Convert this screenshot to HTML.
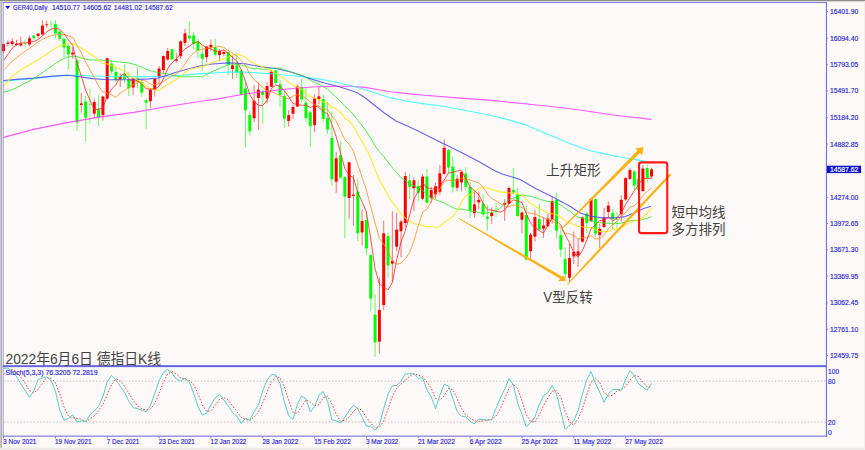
<!DOCTYPE html>
<html lang="zh"><head><meta charset="utf-8"><title>GER40 Daily</title>
<style>
html,body{margin:0;padding:0;background:#fdf9f8;}
body{width:865px;height:450px;overflow:hidden;}
svg{display:block}
.ax{font-family:"Liberation Sans","DejaVu Sans",sans-serif;font-size:7.8px;fill:#2b2bd6;stroke:#2b2bd6;stroke-width:0.18px;}
.cj{font-family:"Liberation Sans","Noto Sans CJK SC","WenQuanYi Zen Hei",sans-serif;font-size:13.8px;fill:#424242;}
</style></head><body>
<svg width="865" height="450" viewBox="0 0 865 450">
<rect width="865" height="450" fill="#fdf9f8"/>
<g id="chart">
<rect x="3.05" y="43.5" width="1" height="9.8" fill="#ff0000" fill-opacity="0.55"/>
<rect x="2.05" y="43.9" width="3.0" height="7.3" fill="#ff0000" rx="0.6"/>
<rect x="7.37" y="40.3" width="1" height="6.2" fill="#ff0000" fill-opacity="0.55"/>
<rect x="6.37" y="42.4" width="3.0" height="1.5" fill="#ff0000" rx="0.6"/>
<rect x="11.69" y="38.2" width="1" height="7.8" fill="#ff0000" fill-opacity="0.55"/>
<rect x="10.69" y="41.3" width="3.0" height="2.8" fill="#ff0000" rx="0.6"/>
<rect x="16.01" y="39.8" width="1" height="6.2" fill="#ff0000" fill-opacity="0.55"/>
<rect x="15.01" y="43.4" width="3.0" height="1.6" fill="#ff0000" rx="0.6"/>
<rect x="20.33" y="36.6" width="1" height="9.9" fill="#ff0000" fill-opacity="0.55"/>
<rect x="19.33" y="43.4" width="3.0" height="2.1" fill="#ff0000" rx="0.6"/>
<rect x="24.65" y="39.2" width="1" height="7.8" fill="#00ff00" fill-opacity="0.5"/>
<rect x="23.95" y="43.1" width="2.4" height="1" fill="#00ff00" fill-opacity="0.55"/>
<rect x="28.97" y="35.6" width="1" height="10.4" fill="#ff0000" fill-opacity="0.55"/>
<rect x="27.97" y="38.2" width="3.0" height="6.3" fill="#ff0000" rx="0.6"/>
<rect x="33.29" y="35.6" width="1" height="4.2" fill="#00ff00" fill-opacity="0.6"/>
<rect x="32.29" y="35.6" width="3.0" height="2.6" fill="#00ff00" rx="0.6"/>
<rect x="37.61" y="33.5" width="1" height="4.7" fill="#ff0000" fill-opacity="0.55"/>
<rect x="36.61" y="33.5" width="3.0" height="2.6" fill="#ff0000" rx="0.6"/>
<rect x="41.93" y="20.2" width="1" height="15.4" fill="#ff0000" fill-opacity="0.55"/>
<rect x="40.93" y="25.5" width="3.0" height="9.0" fill="#ff0000" rx="0.6"/>
<rect x="46.25" y="21.0" width="1" height="6.8" fill="#ff0000" fill-opacity="0.55"/>
<rect x="45.25" y="24.2" width="3.0" height="1.0" fill="#ff0000" rx="0.6"/>
<rect x="50.57" y="20.5" width="1" height="8.3" fill="#00ff00" fill-opacity="0.5"/>
<rect x="49.87" y="23.6" width="2.4" height="1" fill="#00ff00" fill-opacity="0.55"/>
<rect x="54.89" y="20.1" width="1" height="18.1" fill="#00ff00" fill-opacity="0.6"/>
<rect x="53.89" y="24.0" width="3.0" height="9.5" fill="#00ff00" rx="0.6"/>
<rect x="59.21" y="30.4" width="1" height="10.9" fill="#00ff00" fill-opacity="0.6"/>
<rect x="58.21" y="31.4" width="3.0" height="7.3" fill="#00ff00" rx="0.6"/>
<rect x="63.53" y="37.7" width="1" height="19.9" fill="#00ff00" fill-opacity="0.6"/>
<rect x="62.53" y="38.7" width="3.0" height="8.8" fill="#00ff00" rx="0.6"/>
<rect x="67.85" y="43.4" width="1" height="25.8" fill="#00ff00" fill-opacity="0.6"/>
<rect x="66.85" y="45.8" width="3.0" height="8.7" fill="#00ff00" rx="0.6"/>
<rect x="72.17" y="47.4" width="1" height="11.1" fill="#ff0000" fill-opacity="0.55"/>
<rect x="71.17" y="52.5" width="3.0" height="2.0" fill="#ff0000" rx="0.6"/>
<rect x="76.49" y="58.5" width="1" height="72.5" fill="#00ff00" fill-opacity="0.6"/>
<rect x="75.49" y="60.2" width="3.0" height="62.2" fill="#00ff00" rx="0.6"/>
<rect x="80.81" y="92.8" width="1" height="19.7" fill="#ff0000" fill-opacity="0.55"/>
<rect x="79.81" y="103.3" width="3.0" height="1.7" fill="#ff0000" rx="0.6"/>
<rect x="85.13" y="96.3" width="1" height="45.1" fill="#00ff00" fill-opacity="0.6"/>
<rect x="84.13" y="101.5" width="3.0" height="16.2" fill="#00ff00" rx="0.6"/>
<rect x="89.45" y="88.7" width="1" height="34.8" fill="#00ff00" fill-opacity="0.5"/>
<rect x="88.75" y="104.0" width="2.4" height="1" fill="#00ff00" fill-opacity="0.55"/>
<rect x="93.77" y="98.7" width="1" height="19.6" fill="#ff0000" fill-opacity="0.55"/>
<rect x="92.77" y="102.0" width="3.0" height="11.7" fill="#ff0000" rx="0.6"/>
<rect x="98.09" y="95.2" width="1" height="30.6" fill="#00ff00" fill-opacity="0.6"/>
<rect x="97.09" y="109.0" width="3.0" height="8.7" fill="#00ff00" rx="0.6"/>
<rect x="102.41" y="95.8" width="1" height="24.8" fill="#ff0000" fill-opacity="0.55"/>
<rect x="101.41" y="96.6" width="3.0" height="18.3" fill="#ff0000" rx="0.6"/>
<rect x="106.73" y="57.8" width="1" height="41.4" fill="#ff0000" fill-opacity="0.55"/>
<rect x="105.73" y="58.2" width="3.0" height="40.5" fill="#ff0000" rx="0.6"/>
<rect x="111.05" y="60.3" width="1" height="14.1" fill="#00ff00" fill-opacity="0.6"/>
<rect x="110.05" y="63.5" width="3.0" height="8.1" fill="#00ff00" rx="0.6"/>
<rect x="115.37" y="66.8" width="1" height="15.1" fill="#00ff00" fill-opacity="0.6"/>
<rect x="114.37" y="72.0" width="3.0" height="8.2" fill="#00ff00" rx="0.6"/>
<rect x="119.69" y="73.3" width="1" height="13.7" fill="#ff0000" fill-opacity="0.55"/>
<rect x="118.69" y="77.0" width="3.0" height="2.4" fill="#ff0000" rx="0.6"/>
<rect x="124.01" y="64.0" width="1" height="18.5" fill="#00ff00" fill-opacity="0.6"/>
<rect x="123.01" y="74.0" width="3.0" height="5.4" fill="#00ff00" rx="0.6"/>
<rect x="128.33" y="72.4" width="1" height="23.6" fill="#00ff00" fill-opacity="0.6"/>
<rect x="127.33" y="79.7" width="3.0" height="8.6" fill="#00ff00" rx="0.6"/>
<rect x="132.65" y="77.0" width="1" height="18.2" fill="#ff0000" fill-opacity="0.55"/>
<rect x="131.65" y="78.6" width="3.0" height="8.9" fill="#ff0000" rx="0.6"/>
<rect x="136.97" y="66.8" width="1" height="21.5" fill="#00ff00" fill-opacity="0.6"/>
<rect x="135.97" y="78.6" width="3.0" height="2.8" fill="#00ff00" rx="0.6"/>
<rect x="141.29" y="80.6" width="1" height="16.2" fill="#00ff00" fill-opacity="0.6"/>
<rect x="140.29" y="81.9" width="3.0" height="10.8" fill="#00ff00" rx="0.6"/>
<rect x="145.61" y="99.2" width="1" height="29.5" fill="#00ff00" fill-opacity="0.6"/>
<rect x="144.61" y="100.1" width="3.0" height="2.7" fill="#00ff00" rx="0.6"/>
<rect x="149.93" y="88.7" width="1" height="19.1" fill="#ff0000" fill-opacity="0.55"/>
<rect x="148.93" y="89.5" width="3.0" height="11.7" fill="#ff0000" rx="0.6"/>
<rect x="154.25" y="78.1" width="1" height="18.7" fill="#ff0000" fill-opacity="0.55"/>
<rect x="153.25" y="78.4" width="3.0" height="11.1" fill="#ff0000" rx="0.6"/>
<rect x="158.57" y="66.0" width="1" height="19.4" fill="#ff0000" fill-opacity="0.55"/>
<rect x="157.57" y="68.4" width="3.0" height="8.6" fill="#ff0000" rx="0.6"/>
<rect x="162.89" y="55.4" width="1" height="18.6" fill="#ff0000" fill-opacity="0.55"/>
<rect x="161.89" y="55.9" width="3.0" height="14.1" fill="#ff0000" rx="0.6"/>
<rect x="167.21" y="48.1" width="1" height="12.7" fill="#ff0000" fill-opacity="0.55"/>
<rect x="166.21" y="51.0" width="3.0" height="8.5" fill="#ff0000" rx="0.6"/>
<rect x="171.53" y="49.0" width="1" height="11.3" fill="#00ff00" fill-opacity="0.6"/>
<rect x="170.53" y="49.2" width="3.0" height="10.3" fill="#00ff00" rx="0.6"/>
<rect x="175.85" y="52.7" width="1" height="10.0" fill="#ff0000" fill-opacity="0.55"/>
<rect x="174.85" y="59.1" width="3.0" height="1.7" fill="#ff0000" rx="0.6"/>
<rect x="180.17" y="40.2" width="1" height="18.8" fill="#ff0000" fill-opacity="0.55"/>
<rect x="179.17" y="41.3" width="3.0" height="15.0" fill="#ff0000" rx="0.6"/>
<rect x="184.49" y="28.8" width="1" height="17.0" fill="#ff0000" fill-opacity="0.55"/>
<rect x="183.49" y="33.2" width="3.0" height="9.7" fill="#ff0000" rx="0.6"/>
<rect x="188.81" y="21.2" width="1" height="19.4" fill="#00ff00" fill-opacity="0.6"/>
<rect x="187.81" y="35.8" width="3.0" height="2.7" fill="#00ff00" rx="0.6"/>
<rect x="193.13" y="32.0" width="1" height="17.7" fill="#00ff00" fill-opacity="0.6"/>
<rect x="192.13" y="35.3" width="3.0" height="8.7" fill="#00ff00" rx="0.6"/>
<rect x="197.45" y="39.3" width="1" height="19.0" fill="#00ff00" fill-opacity="0.6"/>
<rect x="196.45" y="41.3" width="3.0" height="9.1" fill="#00ff00" rx="0.6"/>
<rect x="201.77" y="45.8" width="1" height="25.2" fill="#00ff00" fill-opacity="0.6"/>
<rect x="200.77" y="53.6" width="3.0" height="5.2" fill="#00ff00" rx="0.6"/>
<rect x="206.09" y="45.8" width="1" height="16.2" fill="#ff0000" fill-opacity="0.55"/>
<rect x="205.09" y="46.6" width="3.0" height="10.6" fill="#ff0000" rx="0.6"/>
<rect x="210.41" y="39.3" width="1" height="11.7" fill="#ff0000" fill-opacity="0.55"/>
<rect x="209.41" y="44.7" width="3.0" height="2.7" fill="#ff0000" rx="0.6"/>
<rect x="214.73" y="38.5" width="1" height="17.9" fill="#00ff00" fill-opacity="0.6"/>
<rect x="213.73" y="47.1" width="3.0" height="7.6" fill="#00ff00" rx="0.6"/>
<rect x="219.05" y="49.1" width="1" height="12.1" fill="#ff0000" fill-opacity="0.55"/>
<rect x="218.05" y="51.0" width="3.0" height="4.1" fill="#ff0000" rx="0.6"/>
<rect x="223.37" y="49.9" width="1" height="6.5" fill="#ff0000" fill-opacity="0.55"/>
<rect x="222.37" y="52.0" width="3.0" height="2.0" fill="#ff0000" rx="0.6"/>
<rect x="227.69" y="49.1" width="1" height="25.9" fill="#00ff00" fill-opacity="0.6"/>
<rect x="226.69" y="52.0" width="3.0" height="12.5" fill="#00ff00" rx="0.6"/>
<rect x="232.01" y="55.6" width="1" height="23.4" fill="#ff0000" fill-opacity="0.55"/>
<rect x="231.01" y="65.3" width="3.0" height="3.7" fill="#ff0000" rx="0.6"/>
<rect x="236.33" y="53.1" width="1" height="24.8" fill="#00ff00" fill-opacity="0.6"/>
<rect x="235.33" y="65.3" width="3.0" height="7.3" fill="#00ff00" rx="0.6"/>
<rect x="240.65" y="69.3" width="1" height="25.7" fill="#00ff00" fill-opacity="0.6"/>
<rect x="239.65" y="70.2" width="3.0" height="24.1" fill="#00ff00" rx="0.6"/>
<rect x="244.97" y="82.0" width="1" height="65.4" fill="#00ff00" fill-opacity="0.6"/>
<rect x="243.97" y="88.2" width="3.0" height="22.0" fill="#00ff00" rx="0.6"/>
<rect x="249.29" y="110.6" width="1" height="25.1" fill="#00ff00" fill-opacity="0.6"/>
<rect x="248.29" y="115.1" width="3.0" height="16.2" fill="#00ff00" rx="0.6"/>
<rect x="253.61" y="84.9" width="1" height="37.3" fill="#ff0000" fill-opacity="0.55"/>
<rect x="252.61" y="100.8" width="3.0" height="17.5" fill="#ff0000" rx="0.6"/>
<rect x="257.93" y="82.2" width="1" height="47.5" fill="#ff0000" fill-opacity="0.55"/>
<rect x="256.93" y="89.5" width="3.0" height="8.4" fill="#ff0000" rx="0.6"/>
<rect x="262.25" y="89.5" width="1" height="34.0" fill="#00ff00" fill-opacity="0.6"/>
<rect x="261.25" y="91.4" width="3.0" height="3.7" fill="#00ff00" rx="0.6"/>
<rect x="266.57" y="82.2" width="1" height="21.1" fill="#ff0000" fill-opacity="0.55"/>
<rect x="265.57" y="85.9" width="3.0" height="12.5" fill="#ff0000" rx="0.6"/>
<rect x="270.89" y="69.8" width="1" height="17.4" fill="#ff0000" fill-opacity="0.55"/>
<rect x="269.89" y="71.6" width="3.0" height="15.2" fill="#ff0000" rx="0.6"/>
<rect x="275.21" y="69.3" width="1" height="14.5" fill="#00ff00" fill-opacity="0.6"/>
<rect x="274.21" y="70.6" width="3.0" height="12.4" fill="#00ff00" rx="0.6"/>
<rect x="279.53" y="80.0" width="1" height="27.0" fill="#00ff00" fill-opacity="0.6"/>
<rect x="278.53" y="84.3" width="3.0" height="10.4" fill="#00ff00" rx="0.6"/>
<rect x="283.85" y="90.8" width="1" height="36.8" fill="#00ff00" fill-opacity="0.6"/>
<rect x="282.85" y="96.0" width="3.0" height="22.7" fill="#00ff00" rx="0.6"/>
<rect x="288.17" y="110.2" width="1" height="16.3" fill="#ff0000" fill-opacity="0.55"/>
<rect x="287.17" y="115.1" width="3.0" height="6.0" fill="#ff0000" rx="0.6"/>
<rect x="292.49" y="104.9" width="1" height="14.1" fill="#ff0000" fill-opacity="0.55"/>
<rect x="291.49" y="107.0" width="3.0" height="6.8" fill="#ff0000" rx="0.6"/>
<rect x="296.81" y="84.6" width="1" height="22.4" fill="#ff0000" fill-opacity="0.55"/>
<rect x="295.81" y="86.2" width="3.0" height="20.3" fill="#ff0000" rx="0.6"/>
<rect x="301.13" y="78.9" width="1" height="23.2" fill="#00ff00" fill-opacity="0.6"/>
<rect x="300.13" y="87.0" width="3.0" height="12.5" fill="#00ff00" rx="0.6"/>
<rect x="305.45" y="87.8" width="1" height="34.4" fill="#00ff00" fill-opacity="0.6"/>
<rect x="304.45" y="102.4" width="3.0" height="15.9" fill="#00ff00" rx="0.6"/>
<rect x="309.77" y="110.6" width="1" height="36.3" fill="#00ff00" fill-opacity="0.6"/>
<rect x="308.77" y="112.2" width="3.0" height="13.8" fill="#00ff00" rx="0.6"/>
<rect x="314.09" y="94.3" width="1" height="37.7" fill="#ff0000" fill-opacity="0.55"/>
<rect x="313.09" y="97.9" width="3.0" height="27.3" fill="#ff0000" rx="0.6"/>
<rect x="318.41" y="85.9" width="1" height="18.5" fill="#ff0000" fill-opacity="0.55"/>
<rect x="317.41" y="96.3" width="3.0" height="2.9" fill="#ff0000" rx="0.6"/>
<rect x="322.73" y="94.3" width="1" height="27.3" fill="#00ff00" fill-opacity="0.6"/>
<rect x="321.73" y="98.9" width="3.0" height="20.1" fill="#00ff00" rx="0.6"/>
<rect x="327.05" y="101.6" width="1" height="32.4" fill="#00ff00" fill-opacity="0.6"/>
<rect x="326.05" y="117.9" width="3.0" height="11.7" fill="#00ff00" rx="0.6"/>
<rect x="331.37" y="112.2" width="1" height="73.6" fill="#00ff00" fill-opacity="0.6"/>
<rect x="330.37" y="138.0" width="3.0" height="41.3" fill="#00ff00" rx="0.6"/>
<rect x="335.69" y="151.8" width="1" height="41.3" fill="#ff0000" fill-opacity="0.55"/>
<rect x="334.69" y="158.3" width="3.0" height="23.5" fill="#ff0000" rx="0.6"/>
<rect x="340.01" y="141.2" width="1" height="37.3" fill="#00ff00" fill-opacity="0.6"/>
<rect x="339.01" y="155.0" width="3.0" height="22.7" fill="#00ff00" rx="0.6"/>
<rect x="344.33" y="176.0" width="1" height="62.2" fill="#00ff00" fill-opacity="0.6"/>
<rect x="343.33" y="176.9" width="3.0" height="19.8" fill="#00ff00" rx="0.6"/>
<rect x="348.65" y="161.5" width="1" height="56.8" fill="#ff0000" fill-opacity="0.55"/>
<rect x="347.65" y="162.3" width="3.0" height="35.7" fill="#ff0000" rx="0.6"/>
<rect x="352.97" y="175.0" width="1" height="50.6" fill="#ff0000" fill-opacity="0.55"/>
<rect x="351.97" y="194.6" width="3.0" height="1.4" fill="#ff0000" rx="0.6"/>
<rect x="357.29" y="178.5" width="1" height="62.6" fill="#00ff00" fill-opacity="0.6"/>
<rect x="356.29" y="191.5" width="3.0" height="41.8" fill="#00ff00" rx="0.6"/>
<rect x="361.61" y="209.3" width="1" height="36.3" fill="#ff0000" fill-opacity="0.55"/>
<rect x="360.61" y="221.0" width="3.0" height="11.4" fill="#ff0000" rx="0.6"/>
<rect x="365.93" y="213.4" width="1" height="41.3" fill="#00ff00" fill-opacity="0.6"/>
<rect x="364.93" y="219.9" width="3.0" height="28.5" fill="#00ff00" rx="0.6"/>
<rect x="370.25" y="254.0" width="1" height="56.8" fill="#00ff00" fill-opacity="0.6"/>
<rect x="369.25" y="255.0" width="3.0" height="43.7" fill="#00ff00" rx="0.6"/>
<rect x="374.57" y="294.2" width="1" height="62.5" fill="#00ff00" fill-opacity="0.6"/>
<rect x="373.57" y="314.7" width="3.0" height="27.8" fill="#00ff00" rx="0.6"/>
<rect x="378.89" y="277.6" width="1" height="75.7" fill="#ff0000" fill-opacity="0.55"/>
<rect x="377.89" y="310.0" width="3.0" height="31.7" fill="#ff0000" rx="0.6"/>
<rect x="383.21" y="220.7" width="1" height="89.3" fill="#ff0000" fill-opacity="0.55"/>
<rect x="382.21" y="233.3" width="3.0" height="71.7" fill="#ff0000" rx="0.6"/>
<rect x="387.53" y="232.9" width="1" height="44.7" fill="#00ff00" fill-opacity="0.6"/>
<rect x="386.53" y="236.1" width="3.0" height="29.3" fill="#00ff00" rx="0.6"/>
<rect x="391.85" y="211.3" width="1" height="70.3" fill="#ff0000" fill-opacity="0.55"/>
<rect x="390.85" y="260.8" width="3.0" height="2.9" fill="#ff0000" rx="0.6"/>
<rect x="396.17" y="212.9" width="1" height="38.3" fill="#ff0000" fill-opacity="0.55"/>
<rect x="395.17" y="229.6" width="3.0" height="17.1" fill="#ff0000" rx="0.6"/>
<rect x="400.49" y="219.4" width="1" height="37.9" fill="#ff0000" fill-opacity="0.55"/>
<rect x="399.49" y="221.5" width="3.0" height="9.7" fill="#ff0000" rx="0.6"/>
<rect x="404.81" y="171.7" width="1" height="55.5" fill="#ff0000" fill-opacity="0.55"/>
<rect x="403.81" y="176.1" width="3.0" height="47.0" fill="#ff0000" rx="0.6"/>
<rect x="409.13" y="173.7" width="1" height="25.6" fill="#00ff00" fill-opacity="0.6"/>
<rect x="408.13" y="180.2" width="3.0" height="6.6" fill="#00ff00" rx="0.6"/>
<rect x="413.45" y="177.2" width="1" height="33.8" fill="#ff0000" fill-opacity="0.55"/>
<rect x="412.45" y="180.2" width="3.0" height="8.1" fill="#ff0000" rx="0.6"/>
<rect x="417.77" y="180.2" width="1" height="20.7" fill="#00ff00" fill-opacity="0.6"/>
<rect x="416.77" y="186.0" width="3.0" height="7.0" fill="#00ff00" rx="0.6"/>
<rect x="422.09" y="173.7" width="1" height="26.7" fill="#ff0000" fill-opacity="0.55"/>
<rect x="421.09" y="176.6" width="3.0" height="22.2" fill="#ff0000" rx="0.6"/>
<rect x="426.41" y="169.1" width="1" height="34.5" fill="#00ff00" fill-opacity="0.6"/>
<rect x="425.41" y="176.6" width="3.0" height="26.2" fill="#00ff00" rx="0.6"/>
<rect x="430.73" y="187.3" width="1" height="15.9" fill="#ff0000" fill-opacity="0.55"/>
<rect x="429.73" y="190.0" width="3.0" height="8.2" fill="#ff0000" rx="0.6"/>
<rect x="435.05" y="182.5" width="1" height="16.1" fill="#ff0000" fill-opacity="0.55"/>
<rect x="434.05" y="186.2" width="3.0" height="8.3" fill="#ff0000" rx="0.6"/>
<rect x="439.37" y="164.9" width="1" height="30.4" fill="#ff0000" fill-opacity="0.55"/>
<rect x="438.37" y="173.3" width="3.0" height="18.5" fill="#ff0000" rx="0.6"/>
<rect x="443.69" y="139.1" width="1" height="35.6" fill="#ff0000" fill-opacity="0.55"/>
<rect x="442.69" y="147.7" width="3.0" height="26.2" fill="#ff0000" rx="0.6"/>
<rect x="448.01" y="148.8" width="1" height="24.3" fill="#00ff00" fill-opacity="0.6"/>
<rect x="447.01" y="149.9" width="3.0" height="17.5" fill="#00ff00" rx="0.6"/>
<rect x="452.33" y="156.4" width="1" height="36.0" fill="#00ff00" fill-opacity="0.6"/>
<rect x="451.33" y="166.6" width="3.0" height="20.7" fill="#00ff00" rx="0.6"/>
<rect x="456.65" y="175.2" width="1" height="16.0" fill="#ff0000" fill-opacity="0.55"/>
<rect x="455.65" y="178.8" width="3.0" height="9.0" fill="#ff0000" rx="0.6"/>
<rect x="460.97" y="171.0" width="1" height="20.3" fill="#ff0000" fill-opacity="0.55"/>
<rect x="459.97" y="172.0" width="3.0" height="10.4" fill="#ff0000" rx="0.6"/>
<rect x="465.29" y="167.4" width="1" height="23.4" fill="#00ff00" fill-opacity="0.6"/>
<rect x="464.29" y="173.6" width="3.0" height="13.3" fill="#00ff00" rx="0.6"/>
<rect x="469.61" y="182.0" width="1" height="36.1" fill="#00ff00" fill-opacity="0.6"/>
<rect x="468.61" y="186.9" width="3.0" height="23.6" fill="#00ff00" rx="0.6"/>
<rect x="473.93" y="191.4" width="1" height="26.2" fill="#ff0000" fill-opacity="0.55"/>
<rect x="472.93" y="204.3" width="3.0" height="9.0" fill="#ff0000" rx="0.6"/>
<rect x="478.25" y="191.6" width="1" height="17.3" fill="#ff0000" fill-opacity="0.55"/>
<rect x="477.25" y="199.8" width="3.0" height="2.6" fill="#ff0000" rx="0.6"/>
<rect x="482.57" y="194.0" width="1" height="23.0" fill="#00ff00" fill-opacity="0.6"/>
<rect x="481.57" y="203.5" width="3.0" height="10.9" fill="#00ff00" rx="0.6"/>
<rect x="486.89" y="204.5" width="1" height="26.1" fill="#00ff00" fill-opacity="0.6"/>
<rect x="485.89" y="216.5" width="3.0" height="2.4" fill="#00ff00" rx="0.6"/>
<rect x="491.21" y="207.3" width="1" height="16.5" fill="#ff0000" fill-opacity="0.55"/>
<rect x="490.21" y="212.8" width="3.0" height="3.2" fill="#ff0000" rx="0.6"/>
<rect x="495.53" y="202.5" width="1" height="14.5" fill="#00ff00" fill-opacity="0.5"/>
<rect x="494.83" y="208.5" width="2.4" height="1" fill="#00ff00" fill-opacity="0.55"/>
<rect x="504.17" y="199.1" width="1" height="21.8" fill="#ff0000" fill-opacity="0.55"/>
<rect x="503.17" y="203.0" width="3.0" height="1.7" fill="#ff0000" rx="0.6"/>
<rect x="508.49" y="186.5" width="1" height="18.0" fill="#ff0000" fill-opacity="0.55"/>
<rect x="507.49" y="188.0" width="3.0" height="15.7" fill="#ff0000" rx="0.6"/>
<rect x="512.81" y="167.8" width="1" height="26.2" fill="#00ff00" fill-opacity="0.6"/>
<rect x="511.81" y="190.1" width="3.0" height="3.1" fill="#00ff00" rx="0.6"/>
<rect x="517.13" y="187.8" width="1" height="29.2" fill="#00ff00" fill-opacity="0.6"/>
<rect x="516.13" y="194.6" width="3.0" height="21.4" fill="#00ff00" rx="0.6"/>
<rect x="521.45" y="211.6" width="1" height="21.8" fill="#ff0000" fill-opacity="0.55"/>
<rect x="520.45" y="212.4" width="3.0" height="7.3" fill="#ff0000" rx="0.6"/>
<rect x="525.77" y="206.0" width="1" height="54.4" fill="#00ff00" fill-opacity="0.6"/>
<rect x="524.77" y="214.9" width="3.0" height="44.5" fill="#00ff00" rx="0.6"/>
<rect x="530.09" y="232.8" width="1" height="26.2" fill="#ff0000" fill-opacity="0.55"/>
<rect x="529.09" y="234.4" width="3.0" height="16.8" fill="#ff0000" rx="0.6"/>
<rect x="534.41" y="210.0" width="1" height="31.6" fill="#ff0000" fill-opacity="0.55"/>
<rect x="533.41" y="217.0" width="3.0" height="19.7" fill="#ff0000" rx="0.6"/>
<rect x="538.73" y="203.5" width="1" height="26.8" fill="#00ff00" fill-opacity="0.6"/>
<rect x="537.73" y="218.9" width="3.0" height="10.6" fill="#00ff00" rx="0.6"/>
<rect x="543.05" y="217.6" width="1" height="20.4" fill="#ff0000" fill-opacity="0.55"/>
<rect x="542.05" y="225.4" width="3.0" height="3.3" fill="#ff0000" rx="0.6"/>
<rect x="547.37" y="213.7" width="1" height="13.3" fill="#ff0000" fill-opacity="0.55"/>
<rect x="546.37" y="218.6" width="3.0" height="7.6" fill="#ff0000" rx="0.6"/>
<rect x="551.69" y="197.0" width="1" height="26.8" fill="#ff0000" fill-opacity="0.55"/>
<rect x="550.69" y="201.1" width="3.0" height="17.8" fill="#ff0000" rx="0.6"/>
<rect x="556.01" y="192.7" width="1" height="45.8" fill="#00ff00" fill-opacity="0.6"/>
<rect x="555.01" y="199.8" width="3.0" height="30.9" fill="#00ff00" rx="0.6"/>
<rect x="560.33" y="229.7" width="1" height="27.3" fill="#00ff00" fill-opacity="0.6"/>
<rect x="559.33" y="235.0" width="3.0" height="14.7" fill="#00ff00" rx="0.6"/>
<rect x="564.65" y="247.4" width="1" height="30.8" fill="#00ff00" fill-opacity="0.6"/>
<rect x="563.65" y="259.0" width="3.0" height="15.1" fill="#00ff00" rx="0.6"/>
<rect x="568.97" y="243.9" width="1" height="38.1" fill="#ff0000" fill-opacity="0.55"/>
<rect x="567.97" y="258.0" width="3.0" height="19.7" fill="#ff0000" rx="0.6"/>
<rect x="573.29" y="231.5" width="1" height="32.5" fill="#ff0000" fill-opacity="0.55"/>
<rect x="572.29" y="251.7" width="3.0" height="4.8" fill="#ff0000" rx="0.6"/>
<rect x="577.61" y="239.0" width="1" height="28.0" fill="#ff0000" fill-opacity="0.55"/>
<rect x="576.61" y="251.3" width="3.0" height="4.3" fill="#ff0000" rx="0.6"/>
<rect x="581.93" y="216.5" width="1" height="26.0" fill="#ff0000" fill-opacity="0.55"/>
<rect x="580.93" y="217.3" width="3.0" height="24.5" fill="#ff0000" rx="0.6"/>
<rect x="586.25" y="212.5" width="1" height="20.6" fill="#00ff00" fill-opacity="0.6"/>
<rect x="585.25" y="213.6" width="3.0" height="9.6" fill="#00ff00" rx="0.6"/>
<rect x="590.57" y="197.6" width="1" height="24.2" fill="#ff0000" fill-opacity="0.55"/>
<rect x="589.57" y="198.8" width="3.0" height="22.4" fill="#ff0000" rx="0.6"/>
<rect x="594.89" y="198.4" width="1" height="38.6" fill="#00ff00" fill-opacity="0.6"/>
<rect x="593.89" y="199.0" width="3.0" height="34.8" fill="#00ff00" rx="0.6"/>
<rect x="599.21" y="224.0" width="1" height="24.3" fill="#ff0000" fill-opacity="0.55"/>
<rect x="598.21" y="228.8" width="3.0" height="6.5" fill="#ff0000" rx="0.6"/>
<rect x="603.53" y="207.8" width="1" height="20.3" fill="#ff0000" fill-opacity="0.55"/>
<rect x="602.53" y="217.6" width="3.0" height="9.4" fill="#ff0000" rx="0.6"/>
<rect x="607.85" y="201.4" width="1" height="17.0" fill="#ff0000" fill-opacity="0.55"/>
<rect x="606.85" y="205.5" width="3.0" height="6.5" fill="#ff0000" rx="0.6"/>
<rect x="612.17" y="209.0" width="1" height="19.9" fill="#00ff00" fill-opacity="0.6"/>
<rect x="611.17" y="213.0" width="3.0" height="6.2" fill="#00ff00" rx="0.6"/>
<rect x="616.49" y="211.9" width="1" height="16.2" fill="#00ff00" fill-opacity="0.5"/>
<rect x="615.79" y="219.0" width="2.4" height="1" fill="#00ff00" fill-opacity="0.55"/>
<rect x="620.81" y="195.3" width="1" height="26.3" fill="#ff0000" fill-opacity="0.55"/>
<rect x="619.81" y="199.7" width="3.0" height="14.6" fill="#ff0000" rx="0.6"/>
<rect x="625.13" y="177.3" width="1" height="23.5" fill="#ff0000" fill-opacity="0.55"/>
<rect x="624.13" y="178.1" width="3.0" height="21.4" fill="#ff0000" rx="0.6"/>
<rect x="629.45" y="167.9" width="1" height="11.8" fill="#ff0000" fill-opacity="0.55"/>
<rect x="628.45" y="170.0" width="3.0" height="8.9" fill="#ff0000" rx="0.6"/>
<rect x="633.77" y="170.0" width="1" height="19.5" fill="#00ff00" fill-opacity="0.6"/>
<rect x="632.77" y="171.6" width="3.0" height="14.1" fill="#00ff00" rx="0.6"/>
<rect x="638.09" y="178.1" width="1" height="12.2" fill="#00ff00" fill-opacity="0.6"/>
<rect x="637.09" y="178.7" width="3.0" height="11.3" fill="#00ff00" rx="0.6"/>
<rect x="642.41" y="165.1" width="1" height="26.8" fill="#ff0000" fill-opacity="0.55"/>
<rect x="641.41" y="168.4" width="3.0" height="22.7" fill="#ff0000" rx="0.6"/>
<rect x="646.73" y="164.7" width="1" height="17.8" fill="#00ff00" fill-opacity="0.6"/>
<rect x="645.73" y="167.9" width="3.0" height="10.2" fill="#00ff00" rx="0.6"/>
<rect x="651.05" y="167.6" width="1" height="11.3" fill="#ff0000" fill-opacity="0.55"/>
<rect x="650.05" y="169.2" width="3.0" height="7.3" fill="#ff0000" rx="0.6"/>
<path d="M3.4,137.4 L33.5,129.4 L67.0,122.6 L100.6,116.9 L134.0,112.4 L167.6,106.5 L201.0,101.2 L220.0,98.6 L236.2,95.5 L252.4,93.0 L268.7,91.0 L284.9,89.2 L301.1,87.7 L317.3,86.8 L333.6,86.3 L349.8,86.3 L365.0,87.4 L380.0,90.0 L390.6,91.8 L407.0,93.6 L424.0,95.2 L457.6,97.9 L491.0,100.4 L524.7,103.8 L558.0,107.3 L580.0,110.0 L613.0,115.0 L651.5,119.4" fill="none" stroke="#ff30ff" stroke-width="1.1" stroke-opacity="0.8" stroke-linejoin="round" />
<path d="M3.4,81.2 L30.0,79.0 L60.0,75.6 L76.0,75.0 L92.4,76.0 L108.7,76.5 L133.0,76.6 L157.3,76.5 L173.6,76.0 L189.8,74.6 L200.0,73.6 L212.4,73.0 L228.7,72.1 L244.9,72.1 L261.0,73.1 L277.3,74.2 L293.6,75.8 L309.8,77.7 L323.5,79.8 L340.0,83.0 L357.0,87.2 L373.0,92.3 L390.6,97.9 L407.0,101.2 L424.0,103.9 L440.0,105.8 L457.6,109.0 L475.0,112.3 L491.0,115.5 L508.0,119.6 L524.7,124.6 L541.0,131.4 L558.0,138.6 L570.0,143.6 L580.0,147.3 L588.7,150.2 L600.0,152.9 L620.0,157.0 L640.0,160.4 L649.0,162.0" fill="none" stroke="#20ffff" stroke-width="1.1" stroke-opacity="0.8" stroke-linejoin="round" />
<path d="M3.4,80.5 L16.8,79.4 L33.5,78.1 L50.3,76.4 L67.0,75.3 L76.2,76.3 L92.4,78.6 L108.7,79.8 L133.0,79.6 L149.2,78.9 L157.3,78.0 L165.0,76.0 L173.6,73.0 L189.8,68.5 L200.0,66.0 L212.4,64.0 L228.7,62.9 L244.9,63.7 L261.0,66.7 L277.3,68.7 L293.6,72.8 L306.8,77.6 L323.5,82.8 L340.3,87.0 L357.0,92.6 L365.0,97.8 L373.8,104.8 L384.0,112.8 L395.6,120.7 L407.3,126.0 L418.7,131.3 L430.0,137.0 L446.2,145.0 L462.4,153.0 L478.7,161.5 L494.9,170.7 L503.0,174.3 L519.2,179.1 L535.5,188.5 L551.7,196.6 L570.0,206.3 L579.7,212.7 L589.5,216.0 L602.4,217.9 L615.4,217.9 L625.2,216.6 L634.9,212.7 L643.0,208.7 L651.0,206.2" fill="none" stroke="#4040f0" stroke-width="1.1" stroke-opacity="0.8" stroke-linejoin="round" />
<path d="M3.4,92.4 L11.1,90.0 L16.8,87.6 L22.2,84.6 L27.8,81.8 L33.3,78.9 L38.9,75.2 L44.4,71.1 L50.0,67.2 L55.6,63.3 L61.0,60.0 L66.7,57.3 L72.2,56.1 L77.0,56.6 L81.0,58.0 L90.0,60.0 L100.6,59.9 L115.0,61.5 L128.8,63.0 L133.2,64.1 L137.5,65.4 L141.8,67.1 L146.1,69.1 L150.4,70.7 L154.8,71.8 L159.1,72.8 L163.4,73.4 L167.7,74.0 L172.0,75.1 L176.4,76.3 L180.7,76.8 L185.0,76.8 L189.3,76.8 L193.6,76.7 L198.0,76.6 L202.3,76.8 L206.6,74.2 L210.9,72.3 L215.2,70.2 L219.6,68.4 L223.9,66.7 L228.2,64.9 L232.5,63.9 L236.8,64.4 L241.2,65.1 L245.5,66.1 L249.8,67.9 L254.1,68.7 L258.4,68.7 L262.8,69.2 L267.1,69.4 L271.4,68.7 L275.7,68.0 L280.0,68.2 L284.4,69.6 L288.7,71.1 L293.0,72.8 L297.3,74.0 L301.6,75.3 L306.0,77.3 L310.3,80.1 L314.6,82.3 L318.9,84.2 L323.2,86.7 L327.6,89.3 L331.9,93.4 L336.2,97.1 L340.5,101.5 L344.8,106.2 L349.2,110.0 L353.5,114.7 L357.8,120.3 L362.1,125.5 L366.4,131.4 L370.8,138.2 L375.1,145.9 L379.4,151.9 L383.7,156.3 L388.0,162.2 L392.4,167.7 L396.7,172.5 L401.0,177.5 L405.3,180.6 L409.6,183.7 L414.0,185.7 L418.3,188.3 L422.6,190.6 L426.9,194.5 L431.2,197.5 L435.6,199.8 L439.9,201.4 L444.2,203.0 L448.5,205.4 L452.8,207.7 L457.2,209.3 L461.5,209.1 L465.8,210.0 L470.1,211.1 L474.4,211.4 L478.8,212.6 L483.1,213.3 L487.4,212.8 L491.7,212.5 L496.0,211.2 L500.4,208.1 L504.7,203.5 L509.0,199.4 L513.3,198.1 L517.6,196.4 L522.0,194.8 L526.3,195.8 L530.6,196.3 L534.9,197.6 L539.2,199.0 L543.5,200.5 L547.9,201.4 L552.2,202.2 L556.5,203.2 L560.8,205.1 L565.1,208.1 L569.5,210.9 L573.8,214.4 L578.1,217.2 L582.4,218.2 L586.8,219.6 L591.1,220.5 L595.4,222.1 L599.7,222.7 L604.0,223.1 L608.4,223.3 L612.7,223.5 L617.0,223.5 L621.3,223.1 L625.6,222.1 L630.0,220.8 L634.3,220.3 L638.6,220.3 L642.9,219.5 L647.2,218.3 L651.5,216.8" fill="none" stroke="#20e820" stroke-width="1.0" stroke-opacity="0.78" stroke-linejoin="round" />
<path d="M3.5,86.5 L7.0,82.2 L11.1,77.8 L16.5,73.0 L22.2,68.9 L27.8,65.7 L33.3,62.8 L38.9,59.3 L44.4,55.6 L48.0,53.2 L51.7,50.6 L55.3,48.2 L59.5,46.0 L64.0,44.8 L68.0,44.0 L72.5,43.6 L77.0,45.5 L81.0,48.1 L85.6,50.6 L90.0,53.7 L94.3,56.7 L98.6,60.5 L102.9,63.2 L107.2,63.9 L111.5,65.3 L115.9,67.4 L120.2,69.3 L124.5,71.6 L128.8,74.8 L133.2,77.5 L137.5,80.3 L141.8,83.3 L146.1,86.5 L150.4,88.6 L154.8,89.8 L159.1,90.6 L163.4,87.2 L167.7,84.6 L172.0,81.7 L176.4,79.4 L180.7,76.4 L185.0,72.2 L189.3,69.2 L193.6,68.5 L198.0,67.5 L202.3,66.4 L206.6,64.9 L210.9,63.2 L215.2,61.5 L219.6,60.1 L223.9,58.6 L228.2,57.2 L232.5,55.3 L236.8,54.5 L241.2,55.3 L245.5,57.4 L249.8,61.1 L254.1,63.6 L258.4,65.1 L262.8,66.9 L267.1,69.2 L271.4,71.1 L275.7,73.3 L280.0,75.9 L284.4,79.3 L288.7,82.1 L293.0,85.1 L297.3,87.2 L301.6,89.4 L306.0,92.8 L310.3,96.5 L314.6,98.2 L318.9,99.7 L323.2,102.0 L327.6,103.8 L331.9,107.2 L336.2,108.6 L340.5,112.4 L344.8,117.8 L349.2,121.2 L353.5,126.6 L357.8,134.7 L362.1,141.6 L366.4,149.3 L370.8,158.3 L375.1,169.6 L379.4,179.8 L383.7,187.1 L388.0,195.4 L392.4,202.6 L396.7,207.7 L401.0,213.9 L405.3,217.9 L409.6,221.3 L414.0,223.8 L418.3,224.5 L422.6,225.4 L426.9,226.7 L431.2,226.3 L435.6,227.5 L439.9,226.5 L444.2,222.2 L448.5,219.5 L452.8,216.5 L457.2,210.5 L461.5,201.9 L465.8,195.8 L470.1,194.6 L474.4,191.6 L478.8,188.5 L483.1,187.8 L487.4,187.7 L491.7,189.5 L496.0,190.6 L500.4,191.9 L504.7,192.4 L509.0,193.0 L513.3,192.5 L517.6,193.8 L522.0,195.1 L526.3,199.4 L530.6,203.8 L534.9,206.2 L539.2,208.3 L543.5,210.7 L547.9,213.0 L552.2,213.7 L556.5,214.7 L560.8,217.0 L565.1,220.7 L569.5,222.9 L573.8,224.5 L578.1,226.4 L582.4,226.8 L586.8,227.7 L591.1,227.5 L595.4,229.8 L599.7,231.6 L604.0,231.6 L608.4,231.3 L612.7,229.3 L617.0,228.6 L621.3,227.7 L625.6,225.1 L630.0,222.4 L634.3,220.7 L638.6,220.2 L642.9,217.0 L647.2,213.5 L651.5,208.2" fill="none" stroke="#ffe800" stroke-width="1.1" stroke-opacity="0.8" stroke-linejoin="round" />
<path d="M3.9,69.8 L7.8,65.8 L11.1,62.2 L16.6,57.6 L22.2,53.3 L26.7,50.2 L29.4,48.4 L33.6,45.3 L38.0,41.8 L42.4,39.4 L46.8,37.4 L51.1,35.6 L55.4,34.9 L59.7,34.4 L64.0,34.8 L68.4,35.9 L72.7,37.3 L77.0,45.7 L81.3,52.7 L85.6,61.9 L90.0,70.0 L94.3,77.7 L98.6,86.1 L102.9,91.9 L107.2,93.0 L111.5,94.7 L115.9,97.5 L120.2,92.9 L124.5,90.5 L128.8,87.6 L133.2,85.0 L137.5,82.9 L141.8,80.4 L146.1,81.0 L150.4,84.2 L154.8,84.8 L159.1,83.7 L163.4,81.5 L167.7,78.7 L172.0,75.8 L176.4,73.9 L180.7,69.9 L185.0,63.9 L189.3,57.5 L193.6,52.9 L198.0,50.1 L202.3,49.2 L206.6,48.2 L210.9,47.6 L215.2,47.1 L219.6,46.3 L223.9,47.4 L228.2,50.5 L232.5,53.2 L236.8,56.1 L241.2,60.5 L245.5,65.6 L249.8,74.1 L254.1,79.7 L258.4,83.2 L262.8,87.6 L267.1,91.0 L271.4,91.7 L275.7,93.4 L280.0,95.6 L284.4,98.1 L288.7,98.6 L293.0,96.1 L297.3,94.7 L301.6,95.7 L306.0,98.0 L310.3,102.0 L314.6,104.6 L318.9,106.0 L323.2,108.4 L327.6,109.5 L331.9,115.9 L336.2,121.0 L340.5,130.2 L344.8,139.9 L349.2,144.3 L353.5,151.2 L357.8,164.7 L362.1,177.2 L366.4,190.1 L370.8,207.0 L375.1,223.3 L379.4,238.5 L383.7,244.1 L388.0,250.9 L392.4,260.8 L396.7,264.3 L401.0,263.1 L405.3,258.6 L409.6,252.5 L414.0,240.6 L418.3,225.7 L422.6,212.3 L426.9,209.3 L431.2,201.7 L435.6,194.3 L439.9,188.7 L444.2,181.3 L448.5,180.4 L452.8,180.4 L457.2,180.3 L461.5,178.2 L465.8,179.2 L470.1,180.0 L474.4,181.4 L478.8,182.8 L483.1,186.9 L487.4,194.0 L491.7,198.6 L496.0,200.8 L500.4,203.5 L504.7,206.6 L509.0,206.7 L513.3,205.0 L517.6,206.2 L522.0,207.4 L526.3,211.9 L530.6,213.5 L534.9,213.9 L539.2,215.9 L543.5,217.8 L547.9,219.4 L552.2,220.7 L556.5,224.4 L560.8,227.8 L565.1,234.0 L569.5,233.8 L573.8,235.6 L578.1,239.0 L582.4,237.8 L586.8,237.6 L591.1,235.6 L595.4,238.9 L599.7,238.7 L604.0,235.5 L608.4,228.6 L612.7,224.7 L617.0,221.6 L621.3,216.4 L625.6,212.5 L630.0,207.2 L634.3,205.8 L638.6,201.5 L642.9,195.4 L647.2,191.5 L651.5,187.8" fill="none" stroke="#ff8c1a" stroke-width="1.0" stroke-opacity="0.78" stroke-linejoin="round" />
<path d="M4.0,60.0 L8.3,53.8 L12.5,47.9 L16.6,44.8 L20.8,42.9 L25.2,42.9 L29.5,42.1 L33.8,41.5 L38.1,39.5 L42.4,35.9 L46.8,31.9 L51.1,29.2 L55.4,28.3 L59.7,29.3 L64.0,33.7 L68.4,39.8 L72.7,45.3 L77.0,63.1 L81.3,76.0 L85.6,90.1 L90.0,100.2 L94.3,110.1 L98.6,109.1 L102.9,107.8 L107.2,95.9 L111.5,89.2 L115.9,84.9 L120.2,76.7 L124.5,73.3 L128.8,79.3 L133.2,80.7 L137.5,80.9 L141.8,84.1 L146.1,88.8 L150.4,89.0 L154.8,89.0 L159.1,86.4 L163.4,79.0 L167.7,68.6 L172.0,62.6 L176.4,58.8 L180.7,53.4 L185.0,48.8 L189.3,46.3 L193.6,43.2 L198.0,41.5 L202.3,45.0 L206.6,47.7 L210.9,48.9 L215.2,51.0 L219.6,51.2 L223.9,49.8 L228.2,53.4 L232.5,57.5 L236.8,61.1 L241.2,69.7 L245.5,81.4 L249.8,94.7 L254.1,101.8 L258.4,105.2 L262.8,105.4 L267.1,100.5 L271.4,88.6 L275.7,85.0 L280.0,86.1 L284.4,90.8 L288.7,96.6 L293.0,103.7 L297.3,104.3 L301.6,105.3 L306.0,105.2 L310.3,107.4 L314.6,105.6 L318.9,107.6 L323.2,111.5 L327.6,113.8 L331.9,124.4 L336.2,136.5 L340.5,152.8 L344.8,168.3 L349.2,174.9 L353.5,177.9 L357.8,192.9 L362.1,201.6 L366.4,211.9 L370.8,239.2 L375.1,268.8 L379.4,284.1 L383.7,286.6 L388.0,290.0 L392.4,282.4 L396.7,259.8 L401.0,242.1 L405.3,230.7 L409.6,215.0 L414.0,198.8 L418.3,191.5 L422.6,182.5 L426.9,187.9 L431.2,188.5 L435.6,189.7 L439.9,185.8 L444.2,180.0 L448.5,172.9 L452.8,172.4 L457.2,170.9 L461.5,170.6 L465.8,178.5 L470.1,187.1 L474.4,190.5 L478.8,194.7 L483.1,203.2 L487.4,209.6 L491.7,210.0 L496.0,211.1 L500.4,212.3 L504.7,210.0 L509.0,203.9 L513.3,199.9 L517.6,201.2 L522.0,202.5 L526.3,213.8 L530.6,223.1 L534.9,227.8 L539.2,230.5 L543.5,233.1 L547.9,225.0 L552.2,218.3 L556.5,221.1 L560.8,225.1 L565.1,234.8 L569.5,242.7 L573.8,252.8 L578.1,257.0 L582.4,250.5 L586.8,240.3 L591.1,228.5 L595.4,224.9 L599.7,220.4 L604.0,220.4 L608.4,216.9 L612.7,221.0 L617.0,218.2 L621.3,212.4 L625.6,204.5 L630.0,197.4 L634.3,190.7 L638.6,184.7 L642.9,178.4 L647.2,178.4 L651.5,178.3" fill="none" stroke="#ff2020" stroke-width="1.0" stroke-opacity="0.78" stroke-linejoin="round" />
<polygon points="458.6,218.8 562.7,280.3 564.3,277.7 459.0,218.0" fill="#ffb010"/>
<polygon points="566.3,280.7 558.0,281.2 563.4,275.4" fill="#ffb010"/>
<polygon points="567.7,284.7 596.8,254.6 595.2,253.0 567.1,284.1" fill="#ffb010"/>
<polygon points="596.8,254.6 671.4,175.0 669.8,173.4 595.2,253.0" fill="#ffb010"/>
<polygon points="562.6,228.8 641.2,151.7 638.8,149.3 561.8,228.0" fill="#ffb010"/>
<polygon points="643.5,147.0 635.3,148.5 642.1,155.3" fill="#ffb010"/>
<rect x="639.05" y="162.4" width="28.2" height="70.7" rx="2.3" fill="none" stroke="#ff1a1a" stroke-width="2.1"/>
<line x1="4" y1="381.1" x2="826" y2="381.1" stroke="#c4c4c4" stroke-width="1" stroke-dasharray="1.5,1.78"/>
<line x1="4" y1="422.0" x2="826" y2="422.0" stroke="#c4c4c4" stroke-width="1" stroke-dasharray="1.5,1.78"/>
<path d="M3.5,374.7 L7.9,370.5 L12.2,369.3 L16.5,372.0 L20.8,377.2 L25.2,383.6 L29.5,390.6 L33.8,393.0 L38.1,389.4 L42.4,382.8 L46.8,377.3 L51.1,378.4 L55.4,382.8 L59.7,393.7 L64.0,407.0 L68.4,416.1 L72.7,417.8 L77.0,418.4 L81.3,419.2 L85.6,421.5 L90.0,419.0 L94.3,415.8 L98.6,410.6 L102.9,404.5 L107.2,394.9 L111.5,384.7 L115.9,379.0 L120.2,380.5 L124.5,386.2 L128.8,393.3 L133.2,400.3 L137.5,405.7 L141.8,408.8 L146.1,410.1 L150.4,409.1 L154.8,403.5 L159.1,393.2 L163.4,382.2 L167.7,374.2 L172.0,371.6 L176.4,373.9 L180.7,377.7 L185.0,379.4 L189.3,380.2 L193.6,384.4 L198.0,393.9 L202.3,404.9 L206.6,411.5 L210.9,410.9 L215.2,405.3 L219.6,399.1 L223.9,397.5 L228.2,400.1 L232.5,406.1 L236.8,411.5 L241.2,417.4 L245.5,419.3 L249.8,420.7 L254.1,416.8 L258.4,412.3 L262.8,402.5 L267.1,391.9 L271.4,381.8 L275.7,376.6 L280.0,377.6 L284.4,386.9 L288.7,400.5 L293.0,412.4 L297.3,413.2 L301.6,406.6 L306.0,399.8 L310.3,402.2 L314.6,405.8 L318.9,404.6 L323.2,397.8 L327.6,396.0 L331.9,404.2 L336.2,413.9 L340.5,421.2 L344.8,420.4 L349.2,417.0 L353.5,411.0 L357.8,408.2 L362.1,410.4 L366.4,417.4 L370.8,423.2 L375.1,427.6 L379.4,427.1 L383.7,421.3 L388.0,409.2 L392.4,396.2 L396.7,388.4 L401.0,384.2 L405.3,380.2 L409.6,376.3 L414.0,373.7 L418.3,375.2 L422.6,376.6 L426.9,382.0 L431.2,388.1 L435.6,398.4 L439.9,400.1 L444.2,396.0 L448.5,388.4 L452.8,389.5 L457.2,398.6 L461.5,408.7 L465.8,414.8 L470.1,418.1 L474.4,420.7 L478.8,421.4 L483.1,420.9 L487.4,419.7 L491.7,419.8 L496.0,416.0 L500.4,408.6 L504.7,398.4 L509.0,388.5 L513.3,384.1 L517.6,388.8 L522.0,400.7 L526.3,414.8 L530.6,421.3 L534.9,422.2 L539.2,414.8 L543.5,405.9 L547.9,397.8 L552.2,391.2 L556.5,390.8 L560.8,396.9 L565.1,411.4 L569.5,421.9 L573.8,425.1 L578.1,418.9 L582.4,408.5 L586.8,394.8 L591.1,381.8 L595.4,378.1 L599.7,382.3 L604.0,392.5 L608.4,396.1 L612.7,395.2 L617.0,390.9 L621.3,389.7 L625.6,386.4 L630.0,380.3 L634.3,375.4 L638.6,376.7 L642.9,382.2 L647.2,387.0 L651.5,386.9" fill="none" stroke="#ff3030" stroke-width="1.0" stroke-opacity="0.95" stroke-linejoin="round" stroke-dasharray="1.5,1.7"/>
<path d="M3.5,368.2 L7.9,368.2 L12.2,371.3 L16.5,376.5 L20.8,383.8 L25.2,390.6 L29.5,397.4 L33.8,391.0 L38.1,379.7 L42.4,377.8 L46.8,377.0 L51.1,380.5 L55.4,391.0 L59.7,409.7 L64.0,420.2 L68.4,418.3 L72.7,414.8 L77.0,422.0 L81.3,420.8 L85.6,421.7 L90.0,414.7 L94.3,411.0 L98.6,406.1 L102.9,396.6 L107.2,382.1 L111.5,375.4 L115.9,379.7 L120.2,386.4 L124.5,392.5 L128.8,401.0 L133.2,407.6 L137.5,408.5 L141.8,410.2 L146.1,411.7 L150.4,405.5 L154.8,393.3 L159.1,380.8 L163.4,372.4 L167.7,369.4 L172.0,373.0 L176.4,379.3 L180.7,380.8 L185.0,378.1 L189.3,381.7 L193.6,393.4 L198.0,406.6 L202.3,414.8 L206.6,413.2 L210.9,404.7 L215.2,398.0 L219.6,394.6 L223.9,400.0 L228.2,405.8 L232.5,412.5 L236.8,416.1 L241.2,423.5 L245.5,418.3 L249.8,420.2 L254.1,411.9 L258.4,404.8 L262.8,390.7 L267.1,380.2 L271.4,374.5 L275.7,374.9 L280.0,383.4 L284.4,402.4 L288.7,415.6 L293.0,419.3 L297.3,404.7 L301.6,395.9 L306.0,398.8 L310.3,411.9 L314.6,406.6 L318.9,395.4 L323.2,391.5 L327.6,401.3 L331.9,419.8 L336.2,420.8 L340.5,423.0 L344.8,417.4 L349.2,410.6 L353.5,405.1 L357.8,408.8 L362.1,417.2 L366.4,426.2 L370.8,426.3 L375.1,430.2 L379.4,424.9 L383.7,408.9 L388.0,393.9 L392.4,385.7 L396.7,385.5 L401.0,381.2 L405.3,373.8 L409.6,373.8 L414.0,373.7 L418.3,378.3 L422.6,377.9 L426.9,389.8 L431.2,396.6 L435.6,408.8 L439.9,394.9 L444.2,384.3 L448.5,385.9 L452.8,398.3 L457.2,411.5 L461.5,416.2 L465.8,416.8 L470.1,421.3 L474.4,423.9 L478.8,419.1 L483.1,419.6 L487.4,420.4 L491.7,419.3 L496.0,408.4 L500.4,397.9 L504.7,389.0 L509.0,378.7 L513.3,384.7 L517.6,403.1 L522.0,414.4 L526.3,427.0 L530.6,422.6 L534.9,417.0 L539.2,404.9 L543.5,395.7 L547.9,392.8 L552.2,385.3 L556.5,394.2 L560.8,411.2 L565.1,429.0 L569.5,425.6 L573.8,420.6 L578.1,410.6 L582.4,394.2 L586.8,379.5 L591.1,371.6 L595.4,383.2 L599.7,392.1 L604.0,402.3 L608.4,393.9 L612.7,389.4 L617.0,389.3 L621.3,390.3 L625.6,379.7 L630.0,370.8 L634.3,375.6 L638.6,383.8 L642.9,387.1 L647.2,390.1 L651.5,383.5" fill="none" stroke="#48c6bc" stroke-width="0.95" stroke-opacity="0.95" stroke-linejoin="round" />
</g>
<g id="frame">
<rect x="0" y="0" width="865" height="1.3" fill="#8e8e8c"/>
<rect x="0" y="1.3" width="0.9" height="447" fill="#c8c8c8"/>
<rect x="0.9" y="1.3" width="0.95" height="447" fill="#a2a29e"/>
<rect x="0" y="447.8" width="865" height="2.2" fill="#ebeae8"/>
<rect x="864" y="1.3" width="1" height="448.7" fill="#f0efed"/>
<rect x="2.6" y="2" width="824.4" height="1.1" fill="#7272e2" fill-opacity="0.85"/>
<rect x="2.6" y="2" width="1.2" height="434.5" fill="#7272e2" fill-opacity="0.6"/>
<rect x="825.9" y="2" width="1.1" height="434.5" fill="#7272e2"/>
<rect x="2.6" y="365.15" width="824.4" height="2.0" fill="#6666e0"/>
<rect x="2.6" y="435.6" width="824.4" height="1.1" fill="#7272e2"/>
<rect x="827" y="11.0" width="0.9" height="1" fill="#7272e2"/>
<text x="829.9" y="13.9" class="ax" textLength="28.4" lengthAdjust="spacingAndGlyphs">16401.90</text>
<rect x="827" y="37.8" width="0.9" height="1" fill="#7272e2"/>
<text x="829.9" y="40.7" class="ax" textLength="28.4" lengthAdjust="spacingAndGlyphs">16094.40</text>
<rect x="827" y="64.1" width="0.9" height="1" fill="#7272e2"/>
<text x="829.9" y="67.0" class="ax" textLength="28.4" lengthAdjust="spacingAndGlyphs">15793.05</text>
<rect x="827" y="90.4" width="0.9" height="1" fill="#7272e2"/>
<text x="829.9" y="93.3" class="ax" textLength="28.4" lengthAdjust="spacingAndGlyphs">15491.70</text>
<rect x="827" y="117.3" width="0.9" height="1" fill="#7272e2"/>
<text x="829.9" y="120.2" class="ax" textLength="28.4" lengthAdjust="spacingAndGlyphs">15184.20</text>
<rect x="827" y="143.6" width="0.9" height="1" fill="#7272e2"/>
<text x="829.9" y="146.5" class="ax" textLength="28.4" lengthAdjust="spacingAndGlyphs">14882.85</text>
<rect x="827" y="196.7" width="0.9" height="1" fill="#7272e2"/>
<text x="829.9" y="199.6" class="ax" textLength="28.4" lengthAdjust="spacingAndGlyphs">14274.00</text>
<rect x="827" y="223.0" width="0.9" height="1" fill="#7272e2"/>
<text x="829.9" y="225.9" class="ax" textLength="28.4" lengthAdjust="spacingAndGlyphs">13972.65</text>
<rect x="827" y="249.3" width="0.9" height="1" fill="#7272e2"/>
<text x="829.9" y="252.2" class="ax" textLength="28.4" lengthAdjust="spacingAndGlyphs">13671.30</text>
<rect x="827" y="275.6" width="0.9" height="1" fill="#7272e2"/>
<text x="829.9" y="278.5" class="ax" textLength="28.4" lengthAdjust="spacingAndGlyphs">13369.95</text>
<rect x="827" y="302.4" width="0.9" height="1" fill="#7272e2"/>
<text x="829.9" y="305.3" class="ax" textLength="28.4" lengthAdjust="spacingAndGlyphs">13062.45</text>
<rect x="827" y="328.7" width="0.9" height="1" fill="#7272e2"/>
<text x="829.9" y="331.6" class="ax" textLength="28.4" lengthAdjust="spacingAndGlyphs">12761.10</text>
<rect x="827" y="355.0" width="0.9" height="1" fill="#7272e2"/>
<text x="829.9" y="357.9" class="ax" textLength="28.4" lengthAdjust="spacingAndGlyphs">12459.75</text>
<rect x="827" y="165.7" width="34.1" height="7.4" fill="#1212cc"/>
<text x="829.9" y="171.9" class="ax" style="fill:#fff;stroke:#fff" textLength="28.4" lengthAdjust="spacingAndGlyphs">14587.62</text>
<text x="828.1" y="374.0" class="ax" textLength="11.0" lengthAdjust="spacingAndGlyphs">100</text>
<text x="828.1" y="383.6" class="ax" textLength="7.2" lengthAdjust="spacingAndGlyphs">80</text>
<text x="828.1" y="424.5" class="ax" textLength="7.3" lengthAdjust="spacingAndGlyphs">20</text>
<text x="828.1" y="434.5" class="ax" textLength="3.8" lengthAdjust="spacingAndGlyphs">0</text>
<rect x="3.0" y="436.5" width="1" height="1.8" fill="#7272e2"/>
<text x="3.1" y="444.3" class="ax" textLength="33.3" lengthAdjust="spacingAndGlyphs">3 Nov 2021</text>
<rect x="54.9" y="436.5" width="1" height="1.8" fill="#7272e2"/>
<text x="55.0" y="444.3" class="ax" textLength="36.6" lengthAdjust="spacingAndGlyphs">19 Nov 2021</text>
<rect x="106.7" y="436.5" width="1" height="1.8" fill="#7272e2"/>
<text x="106.8" y="444.3" class="ax" textLength="32.6" lengthAdjust="spacingAndGlyphs">7 Dec 2021</text>
<rect x="158.6" y="436.5" width="1" height="1.8" fill="#7272e2"/>
<text x="158.7" y="444.3" class="ax" textLength="36.1" lengthAdjust="spacingAndGlyphs">23 Dec 2021</text>
<rect x="210.4" y="436.5" width="1" height="1.8" fill="#7272e2"/>
<text x="210.5" y="444.3" class="ax" textLength="35.9" lengthAdjust="spacingAndGlyphs">12 Jan 2022</text>
<rect x="262.3" y="436.5" width="1" height="1.8" fill="#7272e2"/>
<text x="262.4" y="444.3" class="ax" textLength="35.9" lengthAdjust="spacingAndGlyphs">28 Jan 2022</text>
<rect x="314.1" y="436.5" width="1" height="1.8" fill="#7272e2"/>
<text x="314.2" y="444.3" class="ax" textLength="36.6" lengthAdjust="spacingAndGlyphs">15 Feb 2022</text>
<rect x="365.9" y="436.5" width="1" height="1.8" fill="#7272e2"/>
<text x="366.0" y="444.3" class="ax" textLength="32.3" lengthAdjust="spacingAndGlyphs">3 Mar 2022</text>
<rect x="417.8" y="436.5" width="1" height="1.8" fill="#7272e2"/>
<text x="417.9" y="444.3" class="ax" textLength="37.0" lengthAdjust="spacingAndGlyphs">21 Mar 2022</text>
<rect x="469.6" y="436.5" width="1" height="1.8" fill="#7272e2"/>
<text x="469.7" y="444.3" class="ax" textLength="32.0" lengthAdjust="spacingAndGlyphs">6 Apr 2022</text>
<rect x="521.5" y="436.5" width="1" height="1.8" fill="#7272e2"/>
<text x="521.6" y="444.3" class="ax" textLength="36.1" lengthAdjust="spacingAndGlyphs">25 Apr 2022</text>
<rect x="573.3" y="436.5" width="1" height="1.8" fill="#7272e2"/>
<text x="573.4" y="444.3" class="ax" textLength="37.9" lengthAdjust="spacingAndGlyphs">11 May 2022</text>
<rect x="625.1" y="436.5" width="1" height="1.8" fill="#7272e2"/>
<text x="625.2" y="444.3" class="ax" textLength="37.6" lengthAdjust="spacingAndGlyphs">27 May 2022</text>
<polygon points="5.2,6.1 10.2,6.1 7.7,9.3" fill="#1414c8"/>
<text x="13.1" y="10.0" class="ax hd" textLength="34.3" lengthAdjust="spacingAndGlyphs">GER40,Daily</text>
<text x="52.0" y="10.0" class="ax hd" textLength="28.1" lengthAdjust="spacingAndGlyphs">14510.77</text>
<text x="82.8" y="10.0" class="ax hd" textLength="28.1" lengthAdjust="spacingAndGlyphs">14605.62</text>
<text x="113.8" y="10.0" class="ax hd" textLength="28.1" lengthAdjust="spacingAndGlyphs">14481.02</text>
<text x="144.6" y="10.0" class="ax hd" textLength="28.1" lengthAdjust="spacingAndGlyphs">14587.62</text>
<text x="5.6" y="374.9" class="ax" textLength="92" lengthAdjust="spacingAndGlyphs">Stoch(5,3,3) 76.3205 72.2819</text>
<text x="5.5" y="363.6" class="cj" style="font-size:14.4px" textLength="155.5" lengthAdjust="spacingAndGlyphs">2022年6月6日 德指日K线</text>
<text x="546" y="175.3" class="cj" textLength="54.8" lengthAdjust="spacingAndGlyphs">上升矩形</text>
<text x="543.2" y="301.9" class="cj" textLength="49.6" lengthAdjust="spacingAndGlyphs">V型反转</text>
<text x="671.4" y="216.6" class="cj" textLength="54" lengthAdjust="spacingAndGlyphs">短中均线</text>
<text x="671.4" y="233.8" class="cj" textLength="54" lengthAdjust="spacingAndGlyphs">多方排列</text>
</g>
</svg>
</body></html>
